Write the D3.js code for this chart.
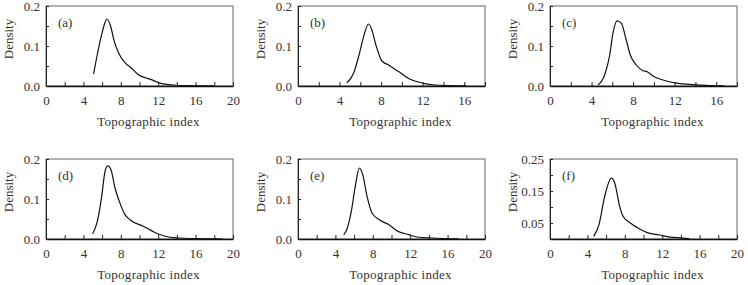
<!DOCTYPE html>
<html>
<head>
<meta charset="utf-8">
<script src="https://cdn.jsdelivr.net/npm/d3@7"></script>
<style>
  body { margin: 0; background: #fff; }
</style>
</head>
<body>
<div id="chart"></div>
<script>
// values
const panelNames = ["(a)", "(b)", "(c)", "(d)", "(e)", "(f)"];

const tiA = [5.09, 5.5, 5.99, 6.3, 6.52, 6.88, 7.31, 7.78, 8.49, 9.03, 9.93, 11.18, 12.26, 13.7, 15, 18];
const denA = [0.030, 0.08, 0.132, 0.158, 0.1675, 0.152, 0.111, 0.082, 0.057, 0.047, 0.0275, 0.0167, 0.0067, 0.0025, 0.001, 0.0003];

const tiB = [4.71, 5.35, 5.83, 6.31, 6.79, 7.11, 7.5, 8.08, 8.72, 9.68, 10.8, 12.08, 13.2, 14.5, 16.2];
const denB = [0.008, 0.032, 0.073, 0.123, 0.155, 0.14, 0.1025, 0.0625, 0.0525, 0.036, 0.017, 0.0067, 0.0025, 0.001, 0.0003];

const tiC = [4.62, 5.26, 5.75, 6.06, 6.45, 6.86, 7.34, 7.73, 8.31, 8.95, 9.34, 9.91, 10.88, 12.0, 13.4, 15, 16.8];
const denC = [0.0025, 0.0275, 0.0775, 0.132, 0.163, 0.157, 0.115, 0.0775, 0.0525, 0.038, 0.036, 0.025, 0.015, 0.008, 0.004, 0.0015, 0.0003];

const tiD = [4.99, 5.49, 5.96, 6.31, 6.59, 6.95, 7.38, 7.84, 8.45, 8.98, 10.4, 12.0, 13.1, 14.3, 16, 18.8];
const denD = [0.013, 0.044, 0.107, 0.169, 0.183, 0.173, 0.1275, 0.094, 0.061, 0.048, 0.032, 0.0125, 0.005, 0.0025, 0.001, 0.0003];

const tiE = [4.89, 5.24, 5.7, 6.13, 6.56, 6.92, 7.38, 7.91, 8.7, 9.7, 10.7, 11.84, 12.73, 14.3, 17.2];
const denE = [0.011, 0.025, 0.069, 0.132, 0.1775, 0.161, 0.107, 0.065, 0.048, 0.036, 0.019, 0.011, 0.005, 0.0025, 0.0003];

const tiF = [4.67, 5.24, 5.85, 6.56, 6.92, 7.45, 7.81, 8.59, 9.59, 10.48, 11.73, 12.8, 14.2, 14.9];
const denF = [0.0083, 0.045, 0.133, 0.19, 0.175, 0.102, 0.071, 0.05, 0.031, 0.019, 0.0125, 0.006, 0.003, 0.001];

const xMax = [20, 18, 18, 20, 20, 20];
const yMax = [0.2, 0.2, 0.2, 0.2, 0.2, 0.25];
const xTickLabels = [[0, 4, 8, 12, 16, 20], [0, 4, 8, 12, 16], [0, 4, 8, 12, 16],
                     [0, 4, 8, 12, 16, 20], [0, 4, 8, 12, 16, 20], [0, 4, 8, 12, 16, 20]];
const yTickLabels = [[0, 0.1, 0.2], [0, 0.1, 0.2], [0, 0.1, 0.2],
                     [0, 0.1, 0.2], [0, 0.1, 0.2], [0.05, 0.15, 0.25]];
const xTitle = "Topographic index";
const yTitle = "Density";

const series = [[tiA, denA], [tiB, denB], [tiC, denC], [tiD, denD], [tiE, denE], [tiF, denF]];

const W = 748, H = 285;
const lefts = [46, 298, 550];
const tops = [6, 159];
const pw = 187, ph = 80;
const FONT = "'Liberation Serif', 'Times New Roman', serif";
const TXT = "#333";

const svg = d3.select("#chart").append("svg")
  .attr("width", W).attr("height", H);

series.forEach((s, i) => {
  const col = i % 3, row = Math.floor(i / 3);
  const g = svg.append("g")
    .attr("transform", `translate(${lefts[col]},${tops[row]})`);

  const x = d3.scaleLinear().domain([0, xMax[i]]).range([0, pw]);
  const y = d3.scaleLinear().domain([0, yMax[i]]).range([ph, 0]);

  // frame
  g.append("rect")
    .attr("width", pw).attr("height", ph)
    .attr("fill", "none").attr("stroke", "#666").attr("stroke-width", 1);

  // x axis: inward ticks every 2
  const xAxis = d3.axisBottom(x)
    .tickValues(d3.range(0, xMax[i] + 0.01, 2))
    .tickSizeInner(-4).tickSizeOuter(0)
    .tickFormat(d => xTickLabels[i].includes(d) ? d : "");
  const xa = g.append("g").attr("transform", `translate(0,${ph})`).call(xAxis);
  xa.select(".domain").attr("stroke", "#111").attr("stroke-width", 1.6);
  xa.selectAll(".tick line").attr("stroke", "#222");
  xa.selectAll(".tick text").attr("dy", 0).attr("y", 19)
    .style("font-family", FONT).style("font-size", "13px").attr("fill", TXT);

  // y axis: inward ticks every 0.05
  const yAxis = d3.axisLeft(y)
    .tickValues(d3.range(0, yMax[i] + 0.001, 0.05))
    .tickSizeInner(-3).tickSizeOuter(0)
    .tickFormat(d => {
      const hit = yTickLabels[i].find(v => Math.abs(v - d) < 1e-6);
      if (hit === undefined) return "";
      return yMax[i] === 0.25 ? d3.format(".2f")(d) : d3.format(".1f")(d);
    });
  const ya = g.append("g").call(yAxis);
  ya.select(".domain").attr("stroke", "#222");
  ya.selectAll(".tick line").attr("stroke", "#222");
  ya.selectAll(".tick text").attr("x", -6)
    .style("font-family", FONT).style("font-size", "13px").attr("fill", TXT);

  // density curve
  const pts = s[0].map((t, k) => [t, s[1][k]]);
  g.append("path")
    .datum(pts)
    .attr("fill", "none")
    .attr("stroke", "#111")
    .attr("stroke-width", 1.2)
    .attr("d", d3.line().x(d => x(d[0])).y(d => y(d[1])).curve(d3.curveMonotoneX));

  // panel label
  g.append("text")
    .attr("x", 12).attr("y", 21)
    .style("font-family", FONT).style("font-size", "13px").attr("fill", TXT)
    .text(panelNames[i]);

  // axis titles
  g.append("text")
    .attr("x", pw / 2 + 9).attr("y", ph + 40)
    .attr("text-anchor", "middle")
    .style("font-family", FONT).style("font-size", "13px").style("letter-spacing", "0.3px")
    .attr("fill", TXT)
    .text(xTitle);

  g.append("text")
    .attr("transform", `translate(${-33},${ph / 2 - 7}) rotate(-90)`)
    .attr("text-anchor", "middle")
    .style("font-family", FONT).style("font-size", "13px").attr("fill", TXT)
    .text(yTitle);
});
</script>
</body>
</html>
